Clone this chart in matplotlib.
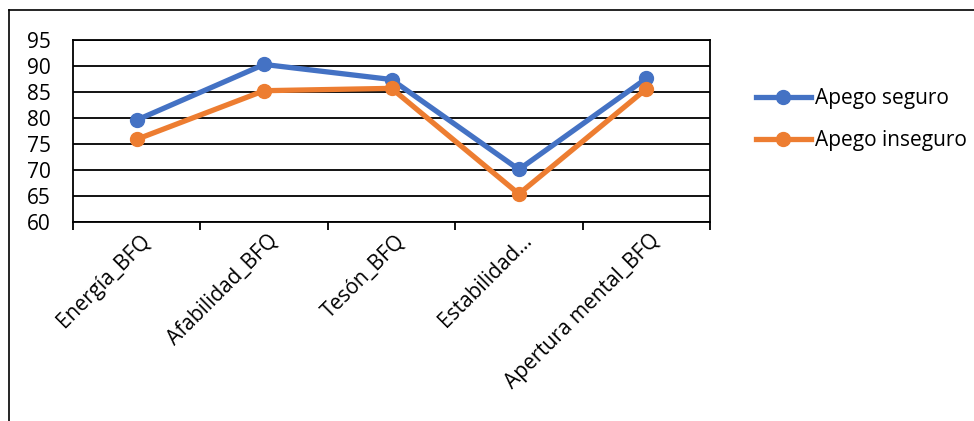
import matplotlib
matplotlib.use("Agg")
import matplotlib.pyplot as plt
from matplotlib.lines import Line2D

categories = ["Energía_BFQ", "Afabilidad_BFQ", "Tesón_BFQ", "Estabilidad...", "Apertura mental_BFQ"]
seguro = [79.6, 90.3, 87.4, 70.1, 87.6]
inseguro = [75.9, 85.25, 85.7, 65.4, 85.6]
yticks = [60, 65, 70, 75, 80, 85, 90, 95]

plt.rcParams['font.family'] = ['Open Sans', 'DejaVu Sans']

W, H = 974, 421
fig = plt.figure(figsize=(W/100, H/100), dpi=100)
ax = fig.add_axes([73/W, 1-222/H, (710-73)/W, (222-40)/H])

blue = "#4472C4"
orange = "#ED7D31"
x = list(range(len(categories)))
ax.plot(x, seguro, color=blue, lw=3.8, marker='o', ms=10, label="Apego seguro", solid_capstyle='round', zorder=3)
ax.plot(x, inseguro, color=orange, lw=3.8, marker='o', ms=10, label="Apego inseguro", solid_capstyle='round', zorder=3)

ax.set_xlim(-0.5, len(categories)-0.5)
ax.set_ylim(60, 95)
ax.set_yticks(yticks)
ax.yaxis.grid(True, color='black', lw=1.3)
ax.set_axisbelow(True)
for s in ['left', 'right', 'bottom', 'top']:
    ax.spines[s].set_color('black')
    ax.spines[s].set_linewidth(1.3)
ax.tick_params(axis='y', length=0, labelsize=15, pad=16)
ax.set_xticks([i-0.5 for i in range(len(categories)+1)])
ax.set_xticklabels([])
ax.tick_params(axis='x', length=6, width=1.3, direction='out', color='black')
for i, c in enumerate(categories):
    ax.annotate(c, xy=(i, 60), xycoords='data', xytext=(2, -6), textcoords='offset points',
                rotation=45, ha='right', va='top', rotation_mode='anchor', fontsize=15)

handles = [Line2D([0], [0], color=blue, lw=3.8, marker='o', ms=10),
           Line2D([0], [0], color=orange, lw=3.8, marker='o', ms=10)]
fig.legend(handles, ["Apego seguro", "Apego inseguro"], loc='upper left',
           bbox_to_anchor=(748/W, 1-80/H), frameon=False, fontsize=15,
           handlelength=2.6, handletextpad=0.2, labelspacing=1.0, borderaxespad=0)

# outer chart frame (left and top edges visible)
fig.add_artist(Line2D([9/W, 9/W], [0, 1-10/H], color='black', lw=1.2, transform=fig.transFigure))
fig.add_artist(Line2D([9/W, 1], [1-10/H, 1-10/H], color='black', lw=1.2, transform=fig.transFigure))

fig.savefig("out.png", dpi=100)
